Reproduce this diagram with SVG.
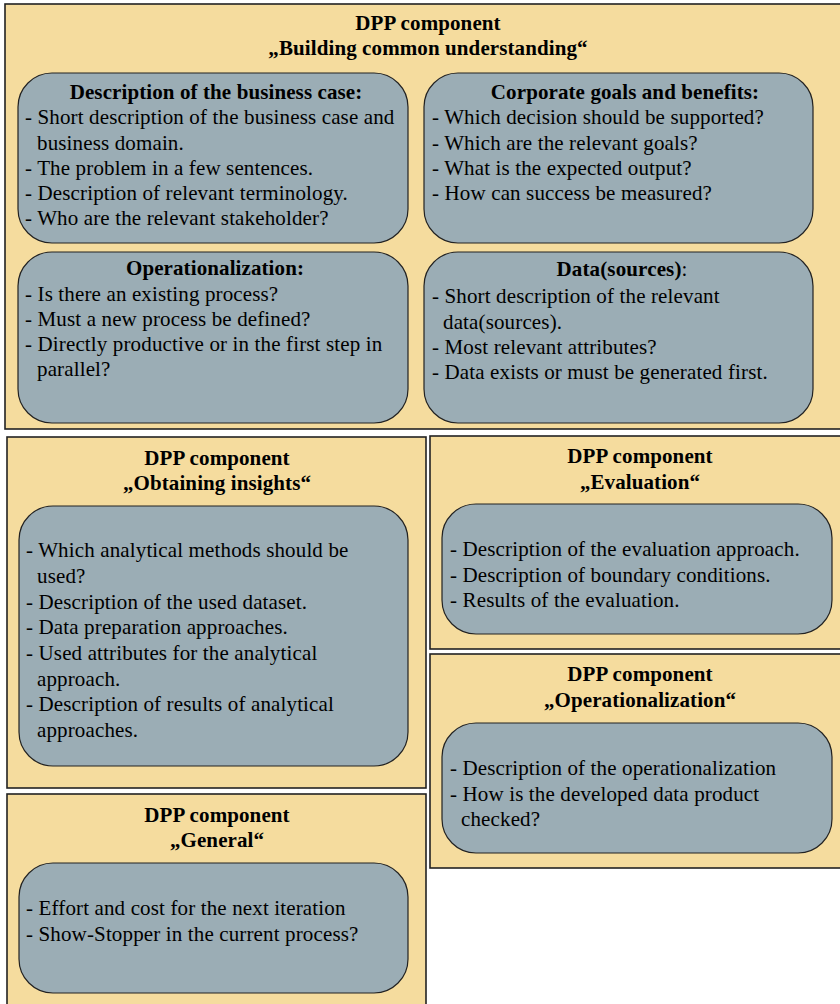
<svg xmlns="http://www.w3.org/2000/svg" width="840" height="1004" viewBox="0 0 840 1004">
<style>
.outer{fill:#F5DC9E;stroke:#222;stroke-width:1.6}
.inner{fill:#9BADB5;stroke:#222;stroke-width:1.2}
text{font-family:"Liberation Serif","Times New Roman",serif;font-size:21px;fill:#000;letter-spacing:0.14px}
.t{font-weight:bold;text-anchor:middle;letter-spacing:0.1px}
</style>
<rect width="840" height="1004" fill="#fff"/>
<g id="building">
<rect class="outer" x="5" y="4" width="845" height="425"/>
<text class="t" x="428" y="30">DPP component</text>
<text class="t" x="428" y="55">„Building common understanding“</text>
</g>
<g id="business-case">
<rect class="inner" x="18" y="73" width="390" height="170" rx="34" ry="34"/>
<text class="t" x="216" y="99">Description of the business case:</text>
<text x="25" y="124">- Short description of the business case and</text>
<text x="37" y="150">business domain.</text>
<text x="25" y="175">- The problem in a few sentences.</text>
<text x="25" y="200">- Description of relevant terminology.</text>
<text x="25" y="225">- Who are the relevant stakeholder?</text>
</g>
<g id="goals">
<rect class="inner" x="424" y="73" width="389" height="170" rx="34" ry="34"/>
<text class="t" x="625" y="99">Corporate goals and benefits:</text>
<text x="432" y="124">- Which decision should be supported?</text>
<text x="432" y="150">- Which are the relevant goals?</text>
<text x="432" y="175">- What is the expected output?</text>
<text x="432" y="200">- How can success be measured?</text>
</g>
<g id="operationalization-q">
<rect class="inner" x="18" y="252" width="390" height="171" rx="34" ry="34"/>
<text class="t" x="215" y="275">Operationalization:</text>
<text x="25" y="301">- Is there an existing process?</text>
<text x="25" y="326">- Must a new process be defined?</text>
<text x="25" y="351">- Directly productive or in the first step in</text>
<text x="37" y="376">parallel?</text>
</g>
<g id="datasources">
<rect class="inner" x="424" y="252" width="389" height="171" rx="34" ry="34"/>
<text x="622" y="276" text-anchor="middle"><tspan font-weight="bold">Data(sources)</tspan>:</text>
<text x="432" y="303">- Short description of the relevant</text>
<text x="443" y="329">data(sources).</text>
<text x="432" y="354">- Most relevant attributes?</text>
<text x="432" y="379">- Data exists or must be generated first.</text>
</g>
<g id="insights">
<rect class="outer" x="7" y="437" width="419" height="351"/>
<text class="t" x="217" y="465">DPP component</text>
<text class="t" x="217" y="490">„Obtaining insights“</text>
<rect class="inner" x="19" y="506" width="389" height="260" rx="34" ry="34"/>
<text x="26" y="557">- Which analytical methods should be</text>
<text x="37" y="583">used?</text>
<text x="26" y="609">- Description of the used dataset.</text>
<text x="26" y="634">- Data preparation approaches.</text>
<text x="26" y="660">- Used attributes for the analytical</text>
<text x="37" y="686">approach.</text>
<text x="26" y="711">- Description of results of analytical</text>
<text x="37" y="737">approaches.</text>
</g>
<g id="evaluation">
<rect class="outer" x="430" y="436" width="420" height="213"/>
<text class="t" x="640" y="463">DPP component</text>
<text class="t" x="640" y="489">„Evaluation“</text>
<rect class="inner" x="442" y="504" width="390" height="130" rx="34" ry="34"/>
<text x="450" y="556">- Description of the evaluation approach.</text>
<text x="450" y="582">- Description of boundary conditions.</text>
<text x="450" y="607">- Results of the evaluation.</text>
</g>
<g id="operationalization">
<rect class="outer" x="430" y="654" width="420" height="214"/>
<text class="t" x="640" y="681">DPP component</text>
<text class="t" x="640" y="707">„Operationalization“</text>
<rect class="inner" x="442" y="723" width="390" height="130" rx="34" ry="34"/>
<text x="450" y="775">- Description of the operationalization</text>
<text x="450" y="801">- How is the developed data product</text>
<text x="461" y="826">checked?</text>
</g>
<g id="general">
<rect class="outer" x="7" y="794" width="419" height="220"/>
<text class="t" x="217" y="822">DPP component</text>
<text class="t" x="217" y="847">„General“</text>
<rect class="inner" x="19" y="863" width="389" height="130" rx="34" ry="34"/>
<text x="26" y="915">- Effort and cost for the next iteration</text>
<text x="26" y="941">- Show-Stopper in the current process?</text>
</g>
<g id="connectors"/>
</svg>
